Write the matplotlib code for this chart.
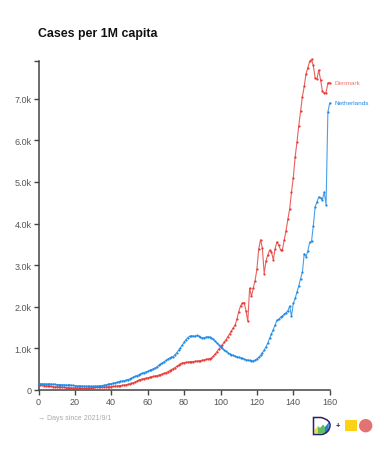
import numpy as np
import matplotlib
matplotlib.use("Agg")
import matplotlib.pyplot as plt
from matplotlib.patches import Rectangle, Circle, PathPatch, Polygon
from matplotlib.path import Path

plt.rcParams['font.family'] = ['Liberation Sans', 'DejaVu Sans']

denmark = [120,115,110,105,100,95,90,85,80,78,
	75,72,70,66,62,60,56,54,50,48,
	46,44,42,40,40,40,42,45,50,55,
	60,62,65,68,70,72,74,76,78,79,
	80,85,90,95,100,105,110,118,125,135,
	145,160,175,195,215,235,250,265,275,285,
	295,305,315,325,335,345,355,370,385,400,
	415,440,465,490,515,540,570,600,630,650,
	660,665,670,675,680,685,690,695,700,705,
	715,725,735,745,755,770,810,860,920,980,
	1030,1090,1150,1210,1280,1350,1420,1490,1560,1700,
	1880,2020,2090,2100,1900,1650,2450,2250,2450,2630,
	2900,3390,3610,3410,2800,3100,3250,3360,3320,3130,
	3400,3560,3480,3370,3370,3600,3830,4100,4350,4750,
	5100,5600,5950,6350,6700,7050,7300,7600,7750,7900,
	7950,7800,7500,7480,7690,7450,7180,7140,7150,7380,
	7390]
netherlands = [150,152,150,148,148,145,145,142,140,138,
	130,132,130,128,125,122,120,125,115,110,
	105,102,100,98,96,94,92,90,90,90,
	90,92,95,98,102,108,115,125,135,145,
	155,165,175,185,195,205,215,225,235,250,
	265,285,305,325,345,365,385,405,420,435,
	450,470,490,510,530,560,590,620,650,680,
	710,740,770,790,800,850,900,960,1020,1080,
	1150,1210,1260,1290,1300,1300,1290,1310,1290,1270,
	1250,1260,1270,1280,1270,1250,1220,1180,1130,1090,
	1050,1000,960,930,900,870,850,830,810,800,
	790,775,760,745,730,720,710,700,705,720,
	750,790,830,900,960,1040,1130,1250,1350,1450,
	1560,1680,1700,1750,1780,1820,1860,1900,2020,1770,
	2080,2200,2350,2500,2680,2830,3280,3200,3350,3550,
	3570,3950,4400,4520,4640,4620,4570,4760,4450,6680,
	6900]
days = np.arange(len(denmark))
xticks = [0,20,40,60,80,100,120,140,160]
yticks = [0,1000,2000,3000,4000,5000,6000,7000]
ylabels = ["0","1.0k","2.0k","3.0k","4.0k","5.0k","6.0k","7.0k"]
red = "#e53935"
blue = "#1e88e5"
grey = "#444444"

W,H = 384,460
fig = plt.figure(figsize=(W/100,H/100),dpi=100)
ax = fig.add_axes([38.5/W,(H-391)/H,(329.7-38.5)/W,(391-61.5)/H])
for y,c in ((denmark,red),(netherlands,blue)):
	ax.plot(days,y,color=c,lw=0.8,alpha=0.8,clip_on=False,zorder=3)
	ax.plot(days,y,ls="none",color=c,marker="o",ms=1.6,mew=0,clip_on=False,zorder=4)
ax.set_xlim(0,160)
ax.set_ylim(0,7920)
ax.set_xticks(xticks)
ax.set_yticks(yticks)
ax.set_yticklabels(ylabels)
ax.set_yticks([7920],minor=True)
ax.tick_params(which="both",length=3.6,width=1,color=grey,labelcolor="#555555",labelsize=6.5,pad=1.5)
for s in ("top","right"):
	ax.spines[s].set_visible(False)
for s in ("left","bottom"):
	ax.spines[s].set_color(grey)
	ax.spines[s].set_linewidth(1.1)

ax.annotate("Denmark",(160,denmark[-1]),xytext=(3.5,0),textcoords="offset points",color="#e8736e",fontsize=4.6,va="center")
ax.annotate("Netherlands",(160,netherlands[-1]),xytext=(3.5,0),textcoords="offset points",color=blue,fontsize=4.6,va="center")

fig.text(38/W,1-34/H,"Cases per 1M capita",fontsize=8.9,fontweight="bold",color="#111111",va="center")
fig.text(38/W,1-419/H,"→ Days since 2021/9/1",fontsize=5.0,color="#aaaaaa",va="center")

# logo in pixel coords
ov = fig.add_axes([0,0,1,1],facecolor="none")
ov.set_xlim(0,W)
ov.set_ylim(H,0)
ov.axis("off")
ov.add_patch(Rectangle((345,420.7),11.7,11.7,color="#fdd116",lw=0))
ov.add_patch(Circle((365.7,426.7),6.7,color="#e27373",lw=0))
ov.text(338,426.7,"+",fontsize=5.5,fontweight="bold",color="#222244",ha="center",va="center")
d_shape = Path([(313.5,418.5),(321,418.5),(331,421),(330,427),(329,434),(322,435.5),(313.5,435.5),(313.5,418.5)],
	[Path.MOVETO,Path.LINETO,Path.CURVE3,Path.CURVE3,Path.CURVE3,Path.CURVE3,Path.LINETO,Path.CLOSEPOLY])
ov.add_patch(Polygon([(318,434.5),(318,427),(320,429),(323,425.5),(325,428),(325,434.5)],color="#5fbf60",lw=0))
ov.add_patch(Polygon([(314.5,434.5),(314.5,431),(318,427),(318,434.5)],color="#f2dc3c",lw=0))
ov.add_patch(Polygon([(325,428),(329,423),(328.5,432),(325,434.5)],color="#2b7fd6",lw=0))
ov.add_patch(PathPatch(d_shape,fc="none",ec="#2a2068",lw=1.1))

fig.savefig("out.png",dpi=100)
